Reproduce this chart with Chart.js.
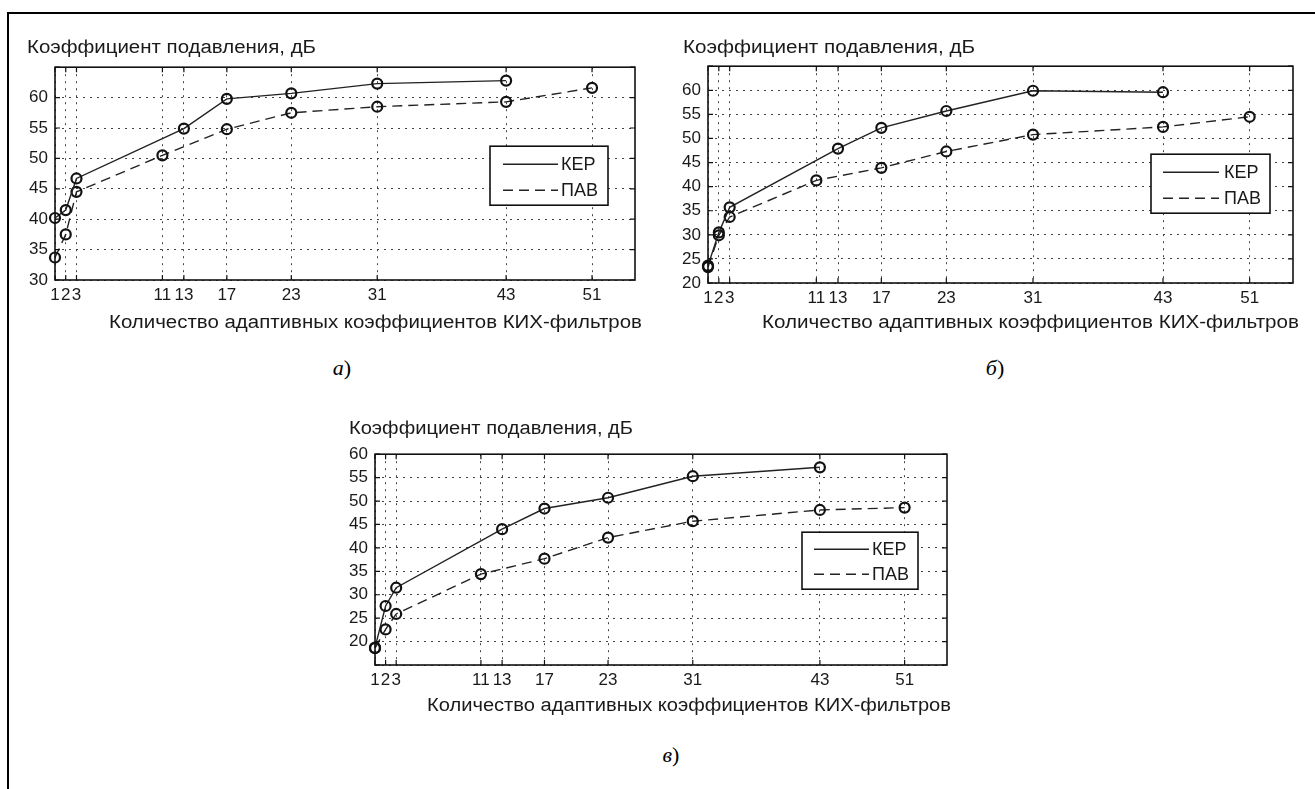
<!DOCTYPE html>
<html><head><meta charset="utf-8">
<script src="https://cdn.jsdelivr.net/npm/chart.js@4.4.1/dist/chart.umd.min.js"></script>
<style>
html,body{margin:0;padding:0;background:#fff;width:1315px;height:789px;overflow:hidden;position:relative;}
#frame{position:absolute;left:7px;top:12px;width:1400px;height:900px;border-left:2px solid #000;border-top:2px solid #000;}
canvas{position:absolute;}
.t{position:absolute;font-family:"Liberation Sans",Arial,sans-serif;color:#1a1a1a;white-space:nowrap;line-height:1;transform-origin:0 50%;}
.cap{position:absolute;width:100px;text-align:center;font-family:"Liberation Serif","Times New Roman",serif;color:#000;line-height:1;white-space:nowrap;}
.cap i{font-style:italic;}
</style></head><body>
<div id="frame"></div>
<canvas id="ca" width="660" height="290" style="left:0px;top:50px"></canvas>
<canvas id="cb" width="660" height="290" style="left:653px;top:49px"></canvas>
<canvas id="cc" width="660" height="280" style="left:320px;top:437px"></canvas>
<div id="texts"></div>
<script>
// ---- data ----
const xTicks = [1, 2, 3, 11, 13, 17, 23, 31, 43, 51];
const xKEP = [1, 2, 3, 13, 17, 23, 31, 43];
const xPAV = [1, 2, 3, 11, 17, 23, 31, 43, 51];
const kepA = [40.2, 41.5, 46.7, 54.9, 59.8, 60.7, 62.3, 62.8];
const pavA = [33.7, 37.5, 44.5, 50.5, 54.8, 57.5, 58.5, 59.3, 61.6];
const kepB = [23.6, 30.5, 35.7, 47.9, 52.2, 55.7, 59.9, 59.6];
const pavB = [23.3, 29.9, 33.7, 41.3, 43.9, 47.3, 50.8, 52.4, 54.5];
const kepC = [18.7, 27.6, 31.5, 44.0, 48.4, 50.7, 55.3, 57.2];
const pavC = [18.6, 22.6, 25.9, 34.4, 37.7, 42.2, 45.7, 48.1, 48.6];
const yTicksA = [30, 35, 40, 45, 50, 55, 60];
const yTicksB = [20, 25, 30, 35, 40, 45, 50, 55, 60];
const yTicksC = [20, 25, 30, 35, 40, 45, 50, 55, 60];
const seriesNames = ['КЕР', 'ПАВ'];
const yTitle = 'Коэффициент подавления, дБ';
const xTitle = 'Количество адаптивных коэффициентов КИХ-фильтров';
const captions = ['а', 'б', 'в'];

const FONT = '"Liberation Sans", Arial, sans-serif';

const boxPlugin = {
  id: 'boxLeg',
  afterDatasetsDraw(chart, args, o) {
    const ctx = chart.ctx, ca = chart.chartArea;
    const xs = chart.scales.x, ys = chart.scales.y;
    ctx.save();
    ctx.strokeStyle = '#111'; ctx.lineWidth = 1.6; ctx.setLineDash([]);
    ctx.strokeRect(ca.left, ca.top, ca.right - ca.left, ca.bottom - ca.top);
    // inward tick marks (all four sides)
    ctx.lineWidth = 1.2; ctx.beginPath();
    xs.ticks.forEach(t => {
      const px = xs.getPixelForValue(t.value);
      ctx.moveTo(px, ca.bottom); ctx.lineTo(px, ca.bottom - 5);
      ctx.moveTo(px, ca.top); ctx.lineTo(px, ca.top + 5);
    });
    ys.ticks.forEach(t => {
      const py = ys.getPixelForValue(t.value);
      ctx.moveTo(ca.left, py); ctx.lineTo(ca.left + 5, py);
      ctx.moveTo(ca.right, py); ctx.lineTo(ca.right - 5, py);
    });
    ctx.stroke();
    const x = ca.right - o.right - o.w, y = ca.top + o.top;
    ctx.fillStyle = '#fff'; ctx.fillRect(x, y, o.w, o.h);
    ctx.strokeStyle = '#111'; ctx.lineWidth = 1.6; ctx.strokeRect(x, y, o.w, o.h);
    chart.data.datasets.forEach((ds, i) => {
      const ry = y + o.rows[i];
      ctx.setLineDash(ds.borderDash || []);
      ctx.strokeStyle = ds.borderColor; ctx.lineWidth = ds.borderWidth;
      ctx.beginPath(); ctx.moveTo(x + o.l0, ry); ctx.lineTo(x + o.l1, ry); ctx.stroke();
      ctx.setLineDash([]);
      ctx.fillStyle = '#1a1a1a'; ctx.font = '18px ' + FONT; ctx.textBaseline = 'middle';
      ctx.fillText(ds.label, x + o.tx, ry + 1);
    });
    ctx.restore();
  }
};

function makeChart(id, kep, pav, ymin, ymax, yLabels, pad, yW, xH, leg) {
  const common = { borderColor: '#222', borderWidth: 1.4, pointRadius: 5, pointBorderWidth: 2.2,
    pointBorderColor: '#111', pointBackgroundColor: 'rgba(0,0,0,0)', tension: 0, clip: false, fill: false };
  new Chart(document.getElementById(id), {
    type: 'line',
    data: { datasets: [
      Object.assign({ label: seriesNames[0], data: xKEP.map((x, i) => ({ x, y: kep[i] })) }, common),
      Object.assign({ label: seriesNames[1], data: xPAV.map((x, i) => ({ x, y: pav[i] })), borderDash: [10, 6] }, common)
    ] },
    options: {
      responsive: false, animation: false, devicePixelRatio: 1,
      layout: { padding: pad },
      plugins: { legend: { display: false }, tooltip: { enabled: false }, boxLeg: leg },
      scales: {
        x: {
          type: 'linear', min: 1, max: 55,
          afterBuildTicks: s => { s.ticks = xTicks.map(v => ({ value: v })); },
          afterFit: s => { s.height = xH; },
          ticks: { autoSkip: false, maxRotation: 0, minRotation: 0, padding: 5, color: '#1a1a1a',
            font: { family: FONT, size: 17 }, callback: v => String(v) },
          grid: { color: '#444', lineWidth: 1, drawTicks: false },
          border: { display: false, dash: [2, 5] }
        },
        y: {
          min: ymin, max: ymax,
          afterFit: s => { s.width = yW; },
          ticks: { stepSize: 5, padding: 7, color: '#1a1a1a', font: { family: FONT, size: 17 },
            callback: v => yLabels.includes(v) ? String(v) : '' },
          grid: { color: '#444', lineWidth: 1, drawTicks: false },
          border: { display: false, dash: [2, 5] }
        }
      }
    },
    plugins: [boxPlugin]
  });
}

makeChart('ca', kepA, pavA, 30, 65, yTicksA, { top: 15, right: 25, left: 0, bottom: 0 }, 55, 60,
  { w: 118, h: 59, right: 27, top: 79, rows: [18, 44], l0: 13, l1: 68, tx: 71 });
makeChart('cb', kepB, pavB, 20, 65, yTicksB, { top: 15, right: 20, left: 0, bottom: 0 }, 55, 56,
  { w: 119, h: 59, right: 23, top: 88, rows: [18, 44], l0: 12, l1: 68, tx: 73 });
makeChart('cc', kepC, pavC, 15, 60, yTicksC, { top: 15, right: 33, left: 0, bottom: 0 }, 55, 52,
  { w: 116, h: 57, right: 29, top: 78, rows: [17, 42], l0: 12, l1: 67, tx: 70 });

// ---- text labels ----
const host = document.getElementById('texts');
function label(txt, left, cy, fs, targetW) {
  const d = document.createElement('div');
  d.className = 't'; d.textContent = txt; d.style.fontSize = fs + 'px';
  host.appendChild(d);
  const w = d.getBoundingClientRect().width;
  d.style.left = left + 'px';
  d.style.top = (cy - 0.49 * fs) + 'px';
  d.style.transform = 'scaleX(' + (targetW / w) + ')';
}
label(yTitle, 27, 46.5, 18, 289);
label(yTitle, 683, 46.5, 18, 292);
label(yTitle, 349, 428, 18, 284);
label(xTitle, 109, 321.5, 18, 533);
label(xTitle, 762, 321.5, 18, 537);
label(xTitle, 427, 705, 18, 524);
function caption(ch, cx, cy, fs) {
  const d = document.createElement('div');
  d.className = 'cap'; d.style.fontSize = fs + 'px';
  d.innerHTML = '<i>' + ch + '</i>)';
  d.style.left = (cx - 50) + 'px'; d.style.top = (cy - 0.6 * fs) + 'px';
  host.appendChild(d);
}
caption(captions[0], 342, 370, 22);
caption(captions[1], 995, 370, 22);
caption(captions[2], 671, 757, 22);
</script>
</body></html>
